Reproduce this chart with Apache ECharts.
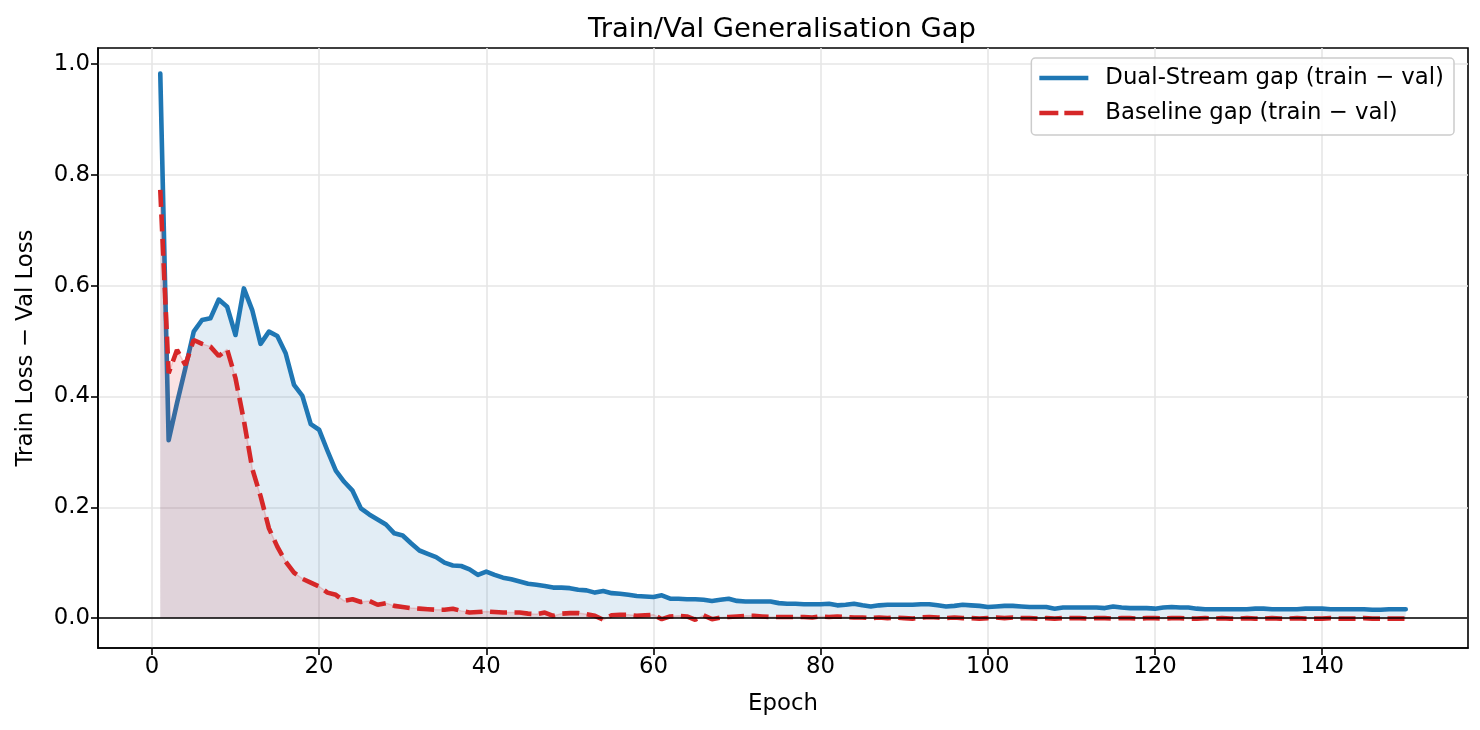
<!DOCTYPE html>
<html>
<head>
<meta charset="utf-8">
<script src="https://cdn.jsdelivr.net/npm/echarts/dist/echarts.min.js"></script>
<style>
  html, body { margin: 0; padding: 0; background: #ffffff; }
  #chart { width: 1480px; height: 730px; }
</style>
</head>
<body>
<div id="chart"></div>
<script>
// ---- Data ----
const titleText = 'Train/Val Generalisation Gap';
const xLabel = 'Epoch';
const yLabel = 'Train Loss \u2212 Val Loss';
const seriesNames = ['Dual-Stream gap (train \u2212 val)', 'Baseline gap (train \u2212 val)'];
const xTicks = [0, 20, 40, 60, 80, 100, 120, 140];
const yTicks = [0.0, 0.2, 0.4, 0.6, 0.8, 1.0];

// Dual-Stream gap, epochs 1..150
const dualGap = [
  0.983, 0.321, 0.388, 0.451, 0.517, 0.538, 0.541, 0.575, 0.562, 0.511,
  0.595, 0.556, 0.495, 0.517, 0.509, 0.478, 0.421, 0.401, 0.350, 0.340,
  0.302, 0.266, 0.246, 0.230, 0.198, 0.187, 0.178, 0.169, 0.153, 0.149,
  0.135, 0.122, 0.116, 0.110, 0.100, 0.095, 0.094, 0.088, 0.078, 0.084,
  0.078, 0.073, 0.070, 0.066, 0.062, 0.060, 0.058, 0.055, 0.055, 0.054,
  0.051, 0.050, 0.046, 0.049, 0.045, 0.044, 0.042, 0.040, 0.039, 0.038,
  0.041, 0.035, 0.035, 0.034, 0.034, 0.033, 0.031, 0.033, 0.035, 0.031,
  0.030, 0.030, 0.030, 0.030, 0.027, 0.026, 0.026, 0.025, 0.025, 0.025,
  0.026, 0.023, 0.024, 0.026, 0.023, 0.021, 0.023, 0.024, 0.024, 0.024,
  0.024, 0.025, 0.025, 0.023, 0.021, 0.022, 0.024, 0.023, 0.022, 0.020,
  0.021, 0.022, 0.022, 0.021, 0.020, 0.020, 0.020, 0.017, 0.019, 0.019,
  0.019, 0.019, 0.019, 0.018, 0.021, 0.019, 0.018, 0.018, 0.018, 0.017,
  0.019, 0.020, 0.019, 0.019, 0.017, 0.016, 0.016, 0.016, 0.016, 0.016,
  0.016, 0.017, 0.017, 0.016, 0.016, 0.016, 0.016, 0.017, 0.017, 0.017,
  0.016, 0.016, 0.016, 0.016, 0.016, 0.015, 0.015, 0.016, 0.016, 0.016
];

// Baseline gap, epochs 1..150
const baseGap = [
  0.773, 0.442, 0.484, 0.457, 0.502, 0.495, 0.490, 0.473, 0.485, 0.433,
  0.357, 0.270, 0.220, 0.162, 0.129, 0.102, 0.082, 0.071, 0.064, 0.057,
  0.046, 0.042, 0.031, 0.034, 0.029, 0.031, 0.024, 0.027, 0.022, 0.020,
  0.018, 0.017, 0.016, 0.015, 0.015, 0.017, 0.013, 0.010, 0.011, 0.012,
  0.011, 0.010, 0.010, 0.010, 0.008, 0.007, 0.010, 0.004, 0.008, 0.009,
  0.009, 0.007, 0.004, -0.003, 0.005, 0.006, 0.006, 0.004, 0.005, 0.006,
  -0.002, 0.003, 0.004, 0.003, -0.003, 0.005, -0.002, 0.001, 0.002, 0.003,
  0.004, 0.004, 0.003, 0.002, 0.002, 0.002, 0.002, 0.002, 0.001, 0.003,
  0.002, 0.003, 0.002, 0.001, 0.001, 0.000, 0.001, 0.000, 0.001, 0.000,
  -0.001, 0.001, 0.002, 0.001, 0.000, 0.001, 0.000, 0.000, -0.001, 0.000,
  0.001, 0.000, 0.001, 0.000, 0.000, -0.001, 0.000, -0.001, 0.000, 0.000,
  0.000, -0.001, 0.000, 0.000, -0.001, 0.000, 0.000, -0.001, 0.000, 0.000,
  -0.001, 0.000, 0.000, -0.001, -0.001, 0.000, -0.001, 0.000, -0.001, -0.001,
  0.000, -0.001, -0.001, 0.000, -0.001, -0.001, 0.000, -0.001, -0.001, -0.001,
  0.000, -0.001, -0.001, -0.001, 0.000, -0.001, -0.001, -0.001, -0.001, -0.001
];

const epochs = dualGap.map((_, i) => i + 1);

// ---- Build the chart ----
const FONT = 'DejaVu Sans';
const BLUE = '#1f77b4';
const RED = '#d62728';
const FS = 22.8;      // regular text size
const FS_TITLE = 27.4;

const dualData = epochs.map((e, i) => [e, dualGap[i]]);
const baseData = epochs.map((e, i) => [e, baseGap[i]]);

// legend handles: solid bar and dashed bar (with tiny end marker to keep width)
const solidIcon = 'path://M0,0H49V4.6H0Z';
const dashedIcon = 'path://M0,0H19V4.6H0Z M25,0H44V4.6H25Z M48.99,2.29H49V2.31H48.99Z';

const chart = echarts.init(document.getElementById('chart'), null, { renderer: 'canvas' });

chart.setOption({
  animation: false,
  backgroundColor: '#ffffff',
  textStyle: { fontFamily: FONT, color: '#000' },
  title: {
    text: titleText,
    left: 777,
    top: 11,
    textAlign: 'center',
    textStyle: { fontFamily: FONT, fontSize: FS_TITLE, fontWeight: 'normal', color: '#000' }
  },
  grid: {
    left: 98, top: 48, right: 12, bottom: 82,
    show: true, borderColor: '#000', borderWidth: 1.6, backgroundColor: 'transparent',
    containLabel: false
  },
  legend: {
    orient: 'vertical',
    right: 26,
    top: 58,
    data: [
      { name: seriesNames[0], icon: solidIcon, itemStyle: { color: BLUE } },
      { name: seriesNames[1], icon: dashedIcon, itemStyle: { color: RED } }
    ],
    itemWidth: 49,
    itemHeight: 4.6,
    itemGap: 11,
    padding: [8, 10, 10, 8],
    backgroundColor: 'rgba(255,255,255,0.85)',
    borderColor: '#cccccc',
    borderWidth: 1.5,
    borderRadius: 4,
    textStyle: { fontFamily: FONT, fontSize: FS, color: '#000', lineHeight: 24, padding: [0, 0, 0, 12] }
  },
  xAxis: {
    type: 'value',
    min: -6.45,
    max: 157.45,
    name: xLabel,
    nameLocation: 'middle',
    nameGap: 45,
    nameTextStyle: { fontFamily: FONT, fontSize: FS, color: '#000' },
    axisLine: { show: true, onZero: false, lineStyle: { color: '#000', width: 1.6 } },
    axisTick: { show: true, customValues: xTicks, length: 7, inside: false, lineStyle: { color: '#000', width: 1.6 } },
    axisLabel: { customValues: xTicks, fontFamily: FONT, fontSize: FS, color: '#000', margin: 8 },
    splitLine: { show: true, lineStyle: { color: '#e6e6e6', width: 1.6 } }
  },
  yAxis: {
    type: 'value',
    min: -0.054,
    max: 1.029,
    name: yLabel,
    nameLocation: 'middle',
    nameGap: 60,
    nameTextStyle: { fontFamily: FONT, fontSize: FS, color: '#000' },
    axisLine: { show: true, onZero: false, lineStyle: { color: '#000', width: 1.6 } },
    axisTick: { show: true, customValues: yTicks, length: 7, inside: false, lineStyle: { color: '#000', width: 1.6 } },
    axisLabel: {
      customValues: yTicks, fontFamily: FONT, fontSize: FS, color: '#000', margin: 8,
      formatter: v => v.toFixed(1)
    },
    splitLine: { show: true, lineStyle: { color: '#e6e6e6', width: 1.6 } }
  },
  series: [
    {
      name: seriesNames[0],
      type: 'line',
      data: dualData,
      symbol: 'none',
      smooth: false,
      z: 2,
      lineStyle: { color: BLUE, width: 4.6, cap: 'round', join: 'round' },
      itemStyle: { color: BLUE },
      areaStyle: { color: 'rgba(31,119,180,0.13)', opacity: 1, origin: 0 },
      markLine: {
        silent: true,
        symbol: 'none',
        label: { show: false },
        lineStyle: { color: '#000', width: 1.6, type: 'solid' },
        data: [{ yAxis: 0 }]
      }
    },
    {
      name: seriesNames[1] + ' edge',
      type: 'line',
      data: baseData,
      symbol: 'none',
      z: 3,
      silent: true,
      lineStyle: { color: 'rgba(214,39,40,0.2)', width: 1.5 },
      areaStyle: { color: 'rgba(214,39,40,0.13)', opacity: 1, origin: 0 }
    },
    {
      name: seriesNames[1],
      type: 'line',
      data: baseData,
      symbol: 'none',
      z: 4,
      lineStyle: { color: RED, width: 4.6, type: [17, 7.5] },
      itemStyle: { color: RED }
    }
  ]
});
</script>
</body>
</html>
